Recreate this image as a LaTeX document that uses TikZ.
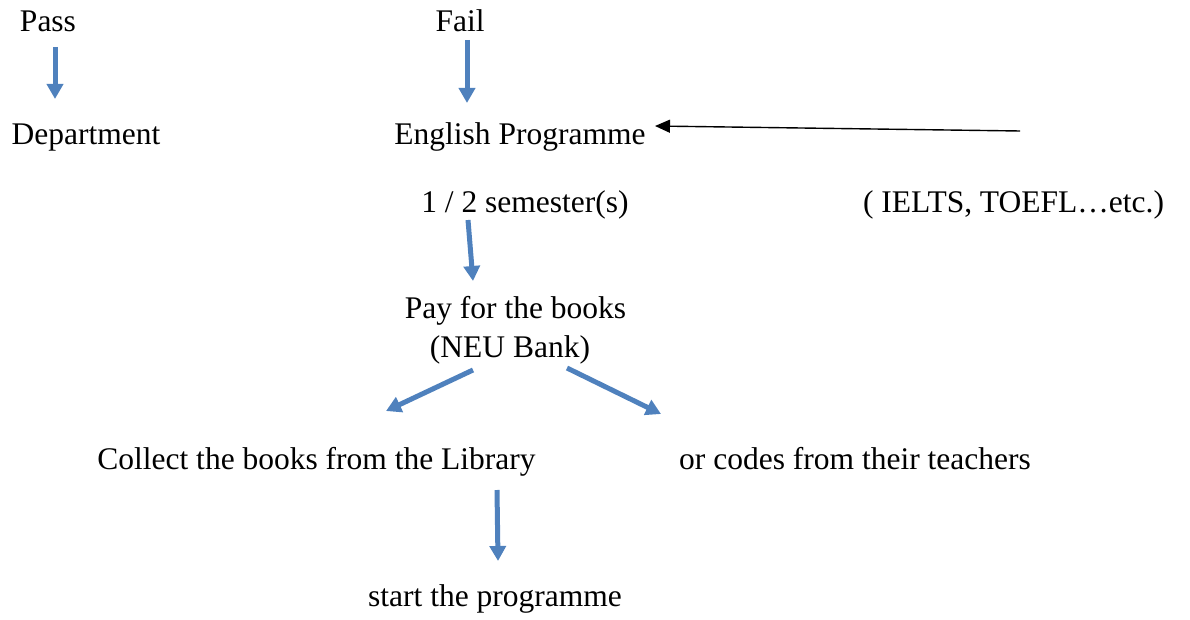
\documentclass[tikz,border=0pt]{standalone}
\usepackage{fontspec}
\setmainfont{Liberation Serif}
\usetikzlibrary{arrows.meta}
\definecolor{arrowblue}{RGB}{79,129,189}
\begin{document}
\begin{tikzpicture}[x=1pt,y=-1pt,
  lbl/.style={anchor=base,inner sep=0pt,font=\fontsize{31.5}{38}\selectfont},
  bluearrow/.style={draw=arrowblue,line width=5pt,-{Triangle[width=16pt,length=15pt]}},
  blackarrow/.style={draw=black,line width=1.4pt,-{Triangle[width=13pt,length=15pt]}}]
\useasboundingbox (0,0) rectangle (1190,620);
% text nodes
\node[lbl] (pass) at (48,32) {Pass};
\node[lbl] (dept) at (86,145) {Department};
\node[lbl] (fail) at (460,32) {Fail};
\node[lbl] (eng) at (520,145) {English Programme};
\node[lbl] (sem) at (525,213) {1 / 2 semester(s)};
\node[lbl] (ielts) at (1013.5,213) {( IELTS, TOEFL…etc.)};
\node[lbl] (pay) at (515.5,318) {Pay for the books};
\node[lbl] (neu) at (510,357) {(NEU Bank)};
\node[lbl] (collect) at (316.5,469) {Collect the books from the Library};
\node[lbl] (codes) at (855,469) {or codes from their teachers};
\node[lbl] (start) at (495,606) {start the programme};
% arrow end points
\coordinate (p1) at (55,47);   \coordinate (p2) at (55,99);
\coordinate (f1) at (467,40);  \coordinate (f2) at (467,103);
\coordinate (s1) at (468,220); \coordinate (s2) at (473,281);
\coordinate (l1) at (473,370); \coordinate (l2) at (386,411);
\coordinate (r1) at (567,368); \coordinate (r2) at (661,414);
\coordinate (c1) at (497,490); \coordinate (c2) at (498,561);
\coordinate (k1) at (1020,131); \coordinate (k2) at (655,126);
% connectors
\draw[bluearrow] (p1) -- (p2);
\draw[bluearrow] (f1) -- (f2);
\draw[bluearrow] (s1) -- (s2);
\draw[bluearrow] (l1) -- (l2);
\draw[bluearrow] (r1) -- (r2);
\draw[bluearrow] (c1) -- (c2);
\draw[blackarrow] (k1) -- (k2);
\end{tikzpicture}
\end{document}
